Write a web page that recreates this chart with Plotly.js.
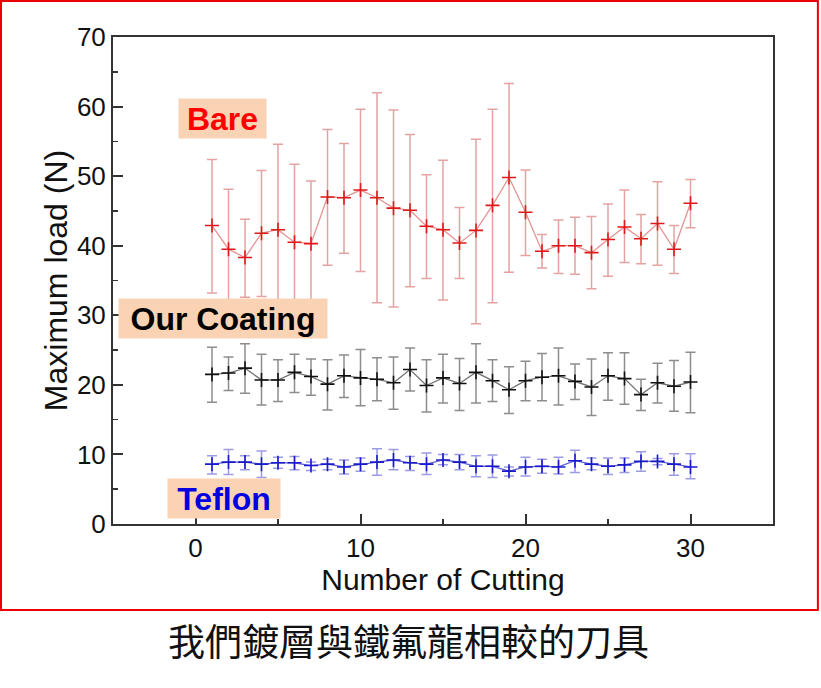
<!DOCTYPE html>
<html>
<head>
<meta charset="utf-8">
<script src="https://cdn.plot.ly/plotly-3.0.1.min.js"></script>
<style>html,body{margin:0;padding:0;background:#fff;}#chart{width:821px;height:688px;}</style>
</head>
<body>
<div id="chart"></div>
<script>
const cutting = [1,2,3,4,5,6,7,8,9,10,11,12,13,14,15,16,17,18,19,20,21,22,23,24,25,26,27,28,29,30];

const bareMean  = [42.9,39.5,38.3,41.8,42.3,40.5,40.3,47.0,46.9,48.0,46.9,45.4,45.1,42.8,42.3,40.4,42.2,45.8,49.8,44.8,39.2,40.0,40.0,39.0,40.9,42.7,41.0,43.2,39.5,46.1];
const bareUpper = [52.4,48.1,43.8,50.8,54.6,51.7,49.3,56.7,54.7,59.6,62.0,59.5,56.0,50.2,52.3,45.5,55.3,59.6,63.3,50.9,41.6,43.7,44.1,44.2,46.0,48.0,44.5,49.2,42.9,49.5];
const bareLower = [33.2,30.9,32.6,32.7,30.0,29.3,31.3,37.2,38.9,36.3,31.8,31.2,34.1,35.3,32.2,35.3,28.8,31.8,36.2,38.6,36.8,36.0,35.9,33.8,35.6,37.6,37.4,37.2,36.0,42.6];

const coatMean  = [21.5,21.7,22.4,20.7,20.7,21.8,21.2,20.1,21.3,21.0,20.8,20.3,22.2,19.9,21.0,20.2,21.8,20.6,19.3,20.6,21.1,21.3,20.5,19.7,21.3,20.9,18.6,20.3,19.8,20.4];
const coatUpper = [25.4,24.0,25.9,24.4,23.6,24.4,23.7,23.6,24.3,25.1,23.9,24.0,25.3,23.6,24.4,23.8,25.9,23.6,22.6,23.4,24.5,25.3,23.0,23.7,24.6,24.6,20.8,23.1,23.5,24.7];
const coatLower = [17.5,19.2,18.8,17.1,17.6,18.9,18.5,16.4,18.2,17.0,17.7,16.5,19.1,16.1,17.4,16.3,17.4,17.6,15.9,17.7,17.7,17.1,17.9,15.6,17.8,17.2,16.3,17.4,16.2,16.0];

const tefMean  = [8.6,8.9,8.9,8.6,8.8,8.8,8.4,8.6,8.2,8.6,8.9,9.2,8.8,8.6,9.2,8.9,8.3,8.3,7.6,8.2,8.3,8.2,9.1,8.6,8.3,8.5,9.0,9.0,8.6,8.2];
const tefUpper = [9.8,10.7,9.8,10.5,9.6,9.7,8.9,9.3,9.2,9.5,10.8,10.7,9.7,10.2,10.0,10.0,9.8,9.9,8.2,9.6,9.3,9.6,10.6,9.5,9.5,9.5,10.4,9.4,10.1,10.1];
const tefLower = [7.2,7.1,7.8,6.7,8.0,7.8,7.7,7.8,7.2,7.6,7.0,7.8,7.7,7.1,8.5,7.8,6.8,6.7,6.9,6.9,7.3,7.2,7.4,7.8,7.1,7.4,7.6,8.5,7.0,6.5];

const xTicks = [0,10,20,30];
const yTicks = [0,10,20,30,40,50,60,70];
const seriesLabels = ["Bare","Our Coating","Teflon"];
const caption = "我們鍍層與鐵氟龍相較的刀具";

function diff(a,b){return a.map((v,i)=>+(Math.abs(v-b[i])).toFixed(2));}

function mk(mean, up, lo, lineCol, errCol, mkCol){
  return {
    x: cutting, y: mean, type:'scatter', mode:'lines+markers',
    line:{color:lineCol, width:1.3},
    marker:{symbol:'cross-thin-open', size:10, line:{color:mkCol, width:1.6}, color:mkCol},
    error_y:{type:'data', symmetric:false, array:diff(up,mean), arrayminus:diff(mean,lo),
             color:errCol, thickness:1.5, width:5},
    showlegend:false, hoverinfo:'skip'
  };
}

const traces = [
  mk(bareMean, bareUpper, bareLower, 'rgba(220,120,120,0.8)', 'rgba(210,100,100,0.6)', '#e01818'),
  mk(coatMean, coatUpper, coatLower, 'rgba(90,90,90,0.85)', 'rgba(80,80,80,0.65)', '#111111'),
  mk(tefMean, tefUpper, tefLower, 'rgba(70,70,200,0.85)', 'rgba(90,90,210,0.6)', '#1a1acc')
];

const FONT = 'Arial, "Liberation Sans", sans-serif';
const ax = {
  showgrid:false, zeroline:false, showline:true, linecolor:'#333', linewidth:2, mirror:true,
  ticks:'inside', ticklen:10, tickwidth:2, tickcolor:'#333',
  tickfont:{family:FONT, size:26, color:'#111'},
  minor:{ticks:'inside', ticklen:5, tickwidth:1.5, tickcolor:'#333'}
};

const boxFont = {family:FONT, size:32};
const layout = {
  width:821, height:688,
  margin:{l:113, r:48, t:37, b:164},
  paper_bgcolor:'#fff', plot_bgcolor:'#fff',
  xaxis: Object.assign({}, ax, {range:[-5,35], tickvals:xTicks, ticktext:xTicks.map(String),
    minor:Object.assign({}, ax.minor, {dtick:5, tick0:0}),
    title:{text:'Number of Cutting', font:{family:FONT, size:30, color:'#111'}, standoff:6}}),
  yaxis: Object.assign({}, ax, {range:[0,70], tickvals:yTicks, ticktext:yTicks.map(String),
    minor:Object.assign({}, ax.minor, {dtick:5, tick0:0}),
    title:{text:'Maximum load (N)', font:{family:FONT, size:32, color:'#111'}, standoff:0}}),
  shapes:[{type:'rect', xref:'paper', yref:'paper', x0:-0.1697, x1:1.068, y0:-0.1766, y1:1.074,
           line:{color:'#ee0000', width:2}, fillcolor:'rgba(0,0,0,0)'}],
  annotations:[
    {x:1.65, y:58.3, xref:'x', yref:'y', text:'<b>'+seriesLabels[0]+'</b>', showarrow:false,
     font:Object.assign({}, boxFont, {color:'#ff0000'}), bgcolor:'#fad3b4', borderpad:0, width:87, height:39},
    {x:1.65, y:29.5, xref:'x', yref:'y', text:'<b>'+seriesLabels[1]+'</b>', showarrow:false,
     font:Object.assign({}, boxFont, {color:'#000'}), bgcolor:'#fad3b4', borderpad:0, width:208, height:39},
    {x:1.74, y:3.67, xref:'x', yref:'y', text:'<b>'+seriesLabels[2]+'</b>', showarrow:false,
     font:Object.assign({}, boxFont, {color:'#0000e0'}), bgcolor:'#fad3b4', borderpad:0, width:112, height:39},
    {x:0.447, y:-0.238, xref:'paper', yref:'paper', xanchor:'center', yanchor:'middle', text:caption, showarrow:false,
     font:{family:'"Noto Sans CJK TC", "Noto Sans CJK SC", sans-serif', size:37, color:'#111'}}
  ]
};

Plotly.newPlot('chart', traces, layout, {displayModeBar:false, staticPlot:true});
</script>
</body>
</html>
